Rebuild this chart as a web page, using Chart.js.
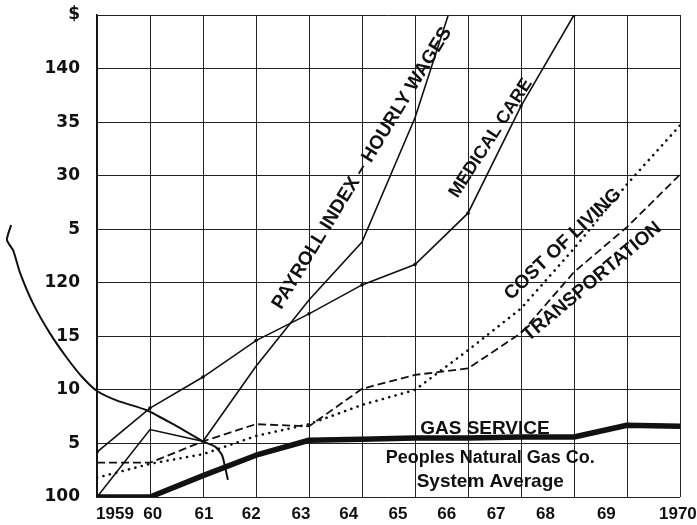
<!DOCTYPE html>
<html>

<head>
    <title>Gas Service vs Living Costs, 1959 = 100</title>
    <script src="https://cdn.jsdelivr.net/npm/chart.js"></script>
    <style>
        body { margin: 0; background: #fff; }
    </style>
</head>

<body>
<canvas id="indexChart" width="697" height="525"></canvas>
<script>
    // index values, 1959 = 100
    var years = [1959, 1960, 1961, 1962, 1963, 1964, 1965, 1966, 1967, 1968, 1969, 1970];
    var yearLabels = ['1959', '60', '61', '62', '63', '64', '65', '66', '67', '68', '69', '1970'];
    var yTickLabels = ['100', '5', '10', '15', '120', '5', '30', '35', '140', '$'];

    var payrollWages = [100, 106.3, 105.2, 112.2, 118.4, 123.8, 135.4, 150.7, null, null, null, null];
    var medicalCare = [104.2, 108.3, 111.2, 114.6, 117.1, 119.8, 121.7, 126.5, 136.5, 145, null, null];
    var costOfLiving = [101.8, 103.1, 104.0, 105.7, 106.8, 108.6, 110.0, 113.7, 117.6, 123.2, 129.2, 134.7];
    var transportation = [103.2, 103.2, 105.2, 106.8, 106.6, 110.1, 111.4, 112.0, 115.3, 121.0, 125.2, 130.1];
    var gasService = [100, 100, 102.0, 103.9, 105.3, 105.4, 105.5, 105.5, 105.6, 105.6, 106.7, 106.6];

    // stray pen stroke on the scanned page (starts with a small hook, runs off the left of the axis)
    var strayYears = [1957.38, 1957.30, 1957.42, 1957.55, 1957.79, 1958.11, 1958.43, 1958.72, 1959.0, 1959.38,
        1959.94, 1960.47, 1961.0, 1961.23, 1961.36, 1961.43, 1961.47];
    var strayValues = [125.4, 124.0, 123.0, 120.9, 118.1, 115.3, 113.0, 111.2, 109.9, 109.0,
        108.1, 106.7, 105.2, 104.7, 103.9, 102.5, 101.6];

    // where the year labels sit along the axis (the print has them drifting from the grid)
    var yearLabelAt = [1959.34, 1960.05, 1961.02, 1961.91, 1962.85, 1963.75, 1964.68, 1965.6, 1966.53, 1967.46, 1968.61, 1969.96];

    var curveLabels = [
        { text: 'PAYROLL INDEX – HOURLY WAGES', x: 1964.0, y: 130.7, angle: -58.5, size: 19 },
        { text: 'MEDICAL CARE', x: 1966.43, y: 133.5, angle: -57, size: 18 },
        { text: 'COST OF LIVING', x: 1967.79, y: 123.6, angle: -43.5, size: 19 },
        { text: 'TRANSPORTATION', x: 1968.34, y: 120.1, angle: -40, size: 19 },
        { text: 'GAS SERVICE', x: 1966.32, y: 106.4, angle: 0, size: 19 },
        { text: 'Peoples Natural Gas Co.', x: 1966.42, y: 103.6, angle: 0, size: 18 },
        { text: 'System Average', x: 1966.42, y: 101.4, angle: 0, size: 19 }
    ];

    function pairs(xs, ys) {
        return xs.map(function (x, i) {
            return { x: x, y: ys[i] };
        });
    }

    var ink = '#111';

    var inlineText = {
        id: 'inlineText',
        afterDatasetsDraw: function (chart) {
            var ctx = chart.ctx;
            var xs = chart.scales.x;
            var ys = chart.scales.y;
            ctx.save();
            ctx.fillStyle = ink;
            ctx.textAlign = 'center';
            ctx.textBaseline = 'middle';
            curveLabels.forEach(function (l) {
                ctx.save();
                ctx.translate(xs.getPixelForValue(l.x), ys.getPixelForValue(l.y));
                ctx.rotate(l.angle * Math.PI / 180);
                ctx.font = 'bold ' + l.size + 'px "Liberation Sans", Arial, sans-serif';
                ctx.fillText(l.text, 0, 0);
                ctx.restore();
            });
            ctx.restore();
        }
    };

    var ctx = document.getElementById('indexChart').getContext('2d');

    var chart = new Chart(ctx, {
        type: 'line',
        data: {
            datasets: [{
                label: 'Stray mark',
                data: pairs(strayYears, strayValues),
                borderColor: ink,
                borderWidth: 2,
                pointRadius: 0,
                tension: 0.2,
                clip: false
            }, {
                label: 'Payroll Index - Hourly Wages',
                data: pairs(years, payrollWages),
                borderColor: ink,
                borderWidth: 1.6,
                pointRadius: 0
            }, {
                label: 'Medical Care',
                data: pairs(years, medicalCare),
                borderColor: ink,
                backgroundColor: ink,
                borderWidth: 1.6,
                pointRadius: 1.8,
                pointBorderWidth: 0
            }, {
                label: 'Cost of Living',
                data: pairs(years, costOfLiving),
                borderColor: ink,
                borderWidth: 2.6,
                borderDash: [0.1, 6.5],
                borderCapStyle: 'round',
                pointRadius: 0
            }, {
                label: 'Transportation',
                data: pairs(years, transportation),
                borderColor: ink,
                borderWidth: 1.8,
                borderDash: [8, 4],
                pointRadius: 0
            }, {
                label: 'Gas Service',
                data: pairs(years, gasService),
                borderColor: ink,
                borderWidth: 5.5,
                borderJoinStyle: 'round',
                pointRadius: 0
            }]
        },
        options: {
            responsive: false,
            animation: false,
            layout: {
                padding: { top: 15, right: 17, bottom: 0, left: 0 }
            },
            plugins: {
                legend: { display: false },
                tooltip: { enabled: false }
            },
            scales: {
                x: {
                    type: 'linear',
                    position: 'bottom',
                    min: 1959,
                    max: 1970,
                    ticks: { display: false, stepSize: 1 },
                    grid: { color: '#222', lineWidth: 1, drawTicks: false },
                    border: { display: false },
                    afterFit: function (scale) {
                        scale.height = 0;
                        scale.paddingLeft = 0;
                        scale.paddingRight = 0;
                    }
                },
                xl: {
                    type: 'linear',
                    position: 'bottom',
                    min: 1959,
                    max: 1970,
                    grid: { display: false, drawTicks: false },
                    border: { display: false },
                    afterBuildTicks: function (scale) {
                        scale.ticks = yearLabelAt.map(function (v) {
                            return { value: v };
                        });
                    },
                    ticks: {
                        autoSkip: false,
                        maxRotation: 0,
                        padding: 7,
                        color: ink,
                        font: { family: '"Liberation Sans", Arial, sans-serif', weight: 'bold', size: 17 },
                        callback: function (value, index) {
                            return yearLabels[index];
                        }
                    },
                    afterFit: function (scale) {
                        scale.height = 28;
                        scale.paddingLeft = 0;
                        scale.paddingRight = 0;
                    }
                },
                y: {
                    type: 'linear',
                    min: 100,
                    max: 145,
                    ticks: {
                        stepSize: 5,
                        padding: 17,
                        color: ink,
                        font: { family: '"DejaVu Sans", sans-serif', weight: 'bold', size: 17 },
                        callback: function (value, index) {
                            return yTickLabels[index];
                        }
                    },
                    grid: { color: '#222', lineWidth: 1, drawTicks: false },
                    border: { display: true, color: ink, width: 1.5 },
                    afterFit: function (scale) {
                        scale.width = 97;
                        scale.paddingTop = 0;
                        scale.paddingBottom = 0;
                    }
                }
            }
        },
        plugins: [inlineText]
    });
</script>
</body>

</html>
